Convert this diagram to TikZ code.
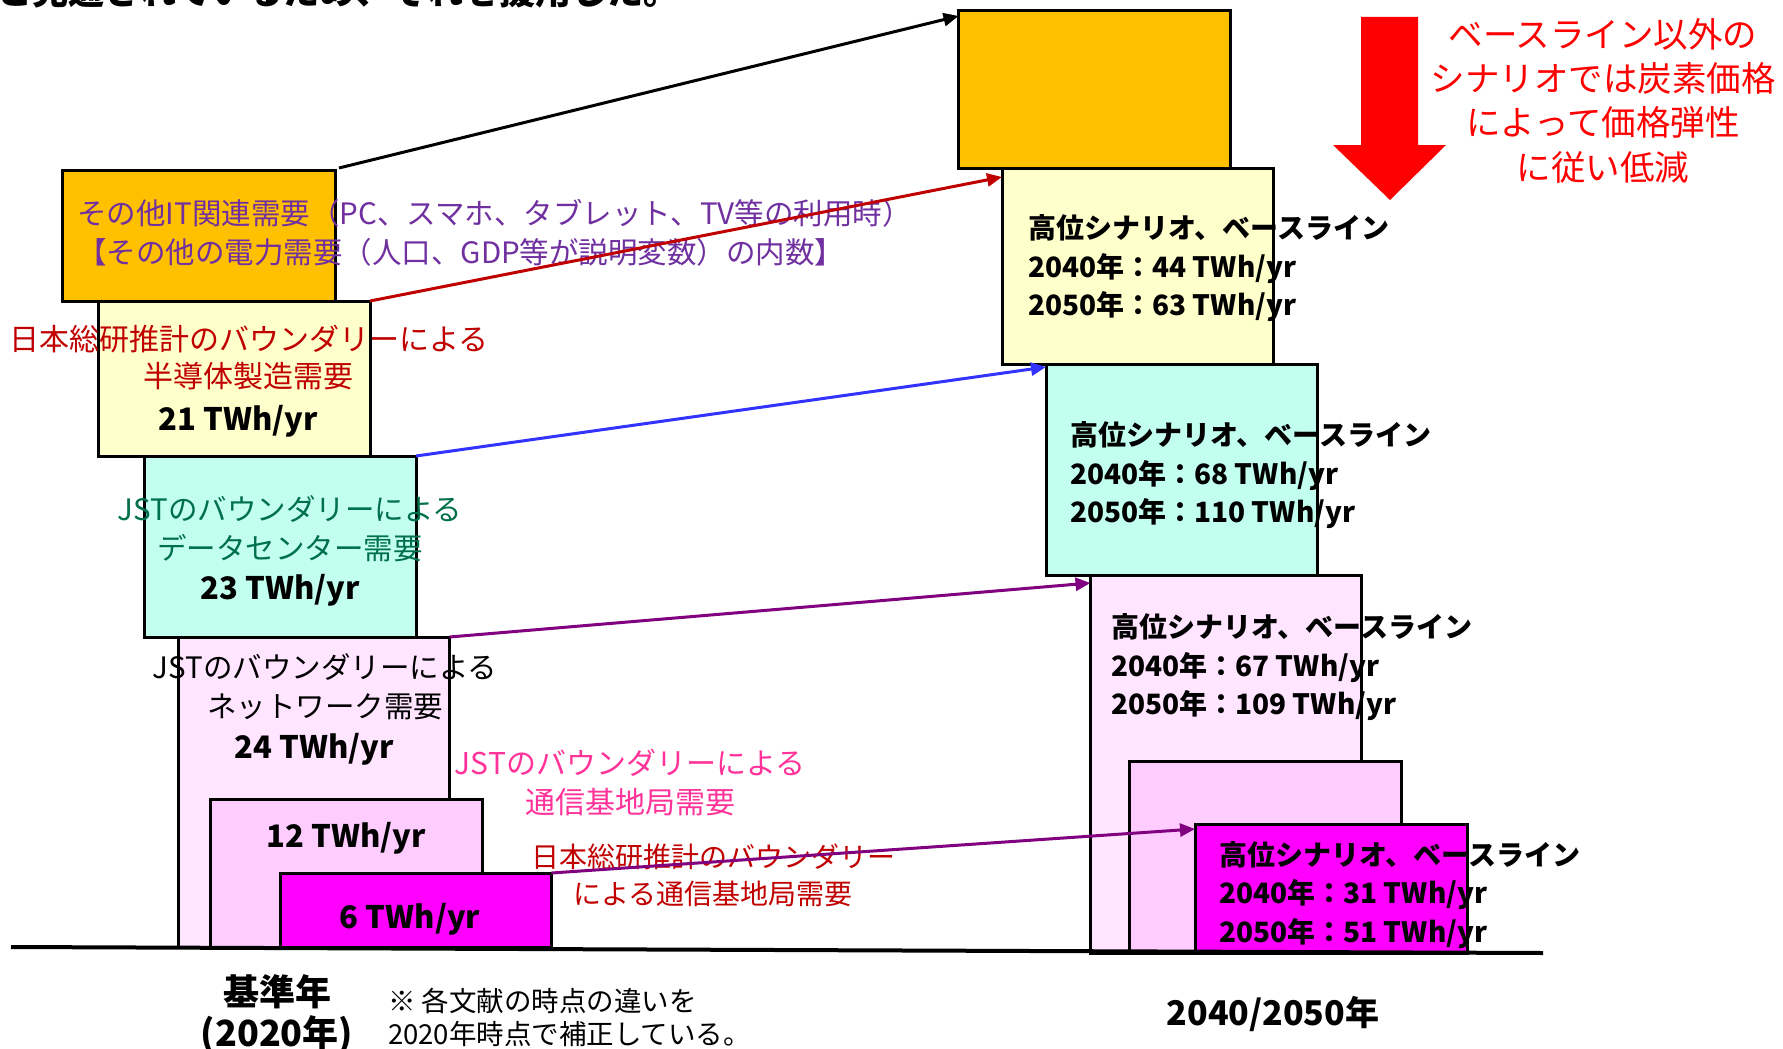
\documentclass[tikz,border=0pt]{standalone}
\usepackage{fontspec}
\setmainfont{Noto Sans CJK JP}
\usetikzlibrary{arrows.meta}
\definecolor{cOrange}{HTML}{FFC000}
\definecolor{cYellow}{HTML}{FFFFCC}
\definecolor{cCyan}{HTML}{C2FFEE}
\definecolor{cLpink}{HTML}{FFE5FF}
\definecolor{cPink}{HTML}{FFCCFF}
\definecolor{cMag}{HTML}{FF00FF}
\definecolor{cPurpleT}{HTML}{7030A0}
\definecolor{cDarkRed}{HTML}{C00000}
\definecolor{cTeal}{HTML}{00704C}
\definecolor{cPinkT}{HTML}{FF3399}
\definecolor{cBlue}{HTML}{3333FF}
\definecolor{cPurpleA}{HTML}{800080}
\newcommand\myfs[2]{\fontsize{#1}{#2}\selectfont}
\begin{document}
\begin{tikzpicture}[x=1pt,y=-1pt,
  blk/.style={draw=black, line width=3pt, inner sep=0pt, outer sep=0pt, anchor=north west},
  conn/.style={line width=3pt, -{Triangle[length=15pt,width=13pt]}},
  txt/.style={inner sep=0pt, align=center},
  val/.style={inner sep=0pt, font=\myfs{31}{36}\bfseries},
  rtxt/.style={inner sep=0pt, align=left, anchor=west, font=\myfs{28}{38.5}\bfseries}]
\useasboundingbox (0,0) rectangle (1783,1049);
% clipped header text
\node[anchor=base west, inner sep=0pt, font=\myfs{36}{40}\bfseries] (top) at (-4,5) {と見通されているため、それを援用した。};
% left column boxes
\node[blk, fill=cOrange, minimum width=273pt, minimum height=130.5pt] (Lit) at (62.5,170.5) {};
\node[blk, fill=cYellow, minimum width=272pt, minimum height=155pt] (Lsemi) at (98,301) {};
\node[blk, fill=cCyan, minimum width=272pt, minimum height=181pt] (Ldc) at (144,456) {};
\node[blk, fill=cLpink, minimum width=271pt, minimum height=310pt] (Lnet) at (178.5,637) {};
\node[blk, fill=cPink, minimum width=272pt, minimum height=148pt] (Lbs) at (210,799) {};
\node[blk, fill=cMag, minimum width=271.5pt, minimum height=74pt] (Lbs2) at (280,873) {};
% right column boxes
\node[blk, fill=cOrange, minimum width=271.5pt, minimum height=157pt] (Rit) at (958.5,11) {};
\node[blk, fill=cYellow, minimum width=271.5pt, minimum height=196pt] (Rsemi) at (1002,168) {};
\node[blk, fill=cCyan, minimum width=271pt, minimum height=211pt] (Rdc) at (1046,364) {};
\node[blk, fill=cLpink, minimum width=270.5pt, minimum height=378pt] (Rnet) at (1090.5,575) {};
\node[blk, fill=cPink, minimum width=272pt, minimum height=192pt] (Rbs) at (1129,761) {};
\node[blk, fill=cMag, minimum width=272pt, minimum height=129pt] (Rbs2) at (1195,824) {};
% baseline
\coordinate (bl) at (11,947);
\coordinate (br) at (1543,953);
\draw[line width=4pt] (bl) -- (br);
% big red arrow
\fill[red] (1361,17) -- (1418,17) -- (1418,145) -- (1446,145) -- (1390,200) -- (1333,145) -- (1361,145) -- cycle;
% texts left
\node[txt, anchor=west, align=left, text=cPurpleT, font=\myfs{29.5}{39}] (tit) at (77,232.5) {その他IT関連需要（PC、スマホ、タブレット、TV等の利用時）\\【その他の電力需要（人口、GDP等が説明変数）の内数】};
\node[txt, text=cDarkRed, font=\myfs{30}{37}] (tsemi) at (249,357.5) {日本総研推計のバウンダリーによる\\半導体製造需要};
\node[val] (vsemi) at (238,421) {21 TWh/yr};
\node[txt, text=cTeal, font=\myfs{29.5}{39}] (tdc) at (290,528.5) {JSTのバウンダリーによる\\データセンター需要};
\node[val] (vdc) at (280,590) {23 TWh/yr};
\node[txt, text=black, font=\myfs{29.5}{39}] (tnet) at (325,686.5) {JSTのバウンダリーによる\\ネットワーク需要};
\node[val] (vnet) at (314,749) {24 TWh/yr};
\node[txt, text=cPinkT, font=\myfs{30}{39}] (tbs) at (630,782.5) {JSTのバウンダリーによる\\通信基地局需要};
\node[val] (vbs) at (346,838) {12 TWh/yr};
\node[txt, text=cDarkRed, font=\myfs{28}{37}] (tbs2) at (713,875.5) {日本総研推計のバウンダリー\\による通信基地局需要};
\node[val] (vbs2) at (410,919) {6 TWh/yr};
\node[txt, font=\myfs{36}{41}\bfseries] (base) at (277,1014) {基準年\\(2020年)};
\node[txt, anchor=west, align=left, font=\myfs{27.5}{33}] (note) at (388,1017.5) {※ 各文献の時点の違いを\\2020年時点で補正している。};
\node[txt, font=\myfs{34}{40}\bfseries] (year) at (1273,1014) {2040/2050年};
% texts right
\node[rtxt] (rsemi) at (1028,268.5) {高位シナリオ、ベースライン\\2040年：44 TWh/yr\\2050年：63 TWh/yr};
\node[rtxt] (rdc) at (1070,475.5) {高位シナリオ、ベースライン\\2040年：68 TWh/yr\\2050年：110 TWh/yr};
\node[rtxt] (rnet) at (1111,667.5) {高位シナリオ、ベースライン\\2040年：67 TWh/yr\\2050年：109 TWh/yr};
\node[rtxt] (rbs2) at (1219,895) {高位シナリオ、ベースライン\\2040年：31 TWh/yr\\2050年：51 TWh/yr};
\node[txt, text=red, font=\myfs{34.5}{44.3}] (rnote) at (1603,100.5) {ベースライン以外の\\シナリオでは炭素価格\\によって価格弾性\\に従い低減};
% connectors
\draw[conn, black] ([xshift=3.5pt,yshift=2.5pt]Lit.north east) -- ([yshift=-5pt]Rit.north west);
\draw[conn, cDarkRed] (Lsemi.north east) -- ([yshift=-9pt]Rsemi.north west);
\draw[conn, cBlue] (Ldc.north east) -- ([yshift=-3pt]Rdc.north west);
\draw[conn, cPurpleA] (Lnet.north east) -- ([yshift=-8pt]Rnet.north west);
\draw[conn, cPurpleA] (Lbs2.north east) -- ([yshift=-5pt]Rbs2.north west);
\end{tikzpicture}
\end{document}
